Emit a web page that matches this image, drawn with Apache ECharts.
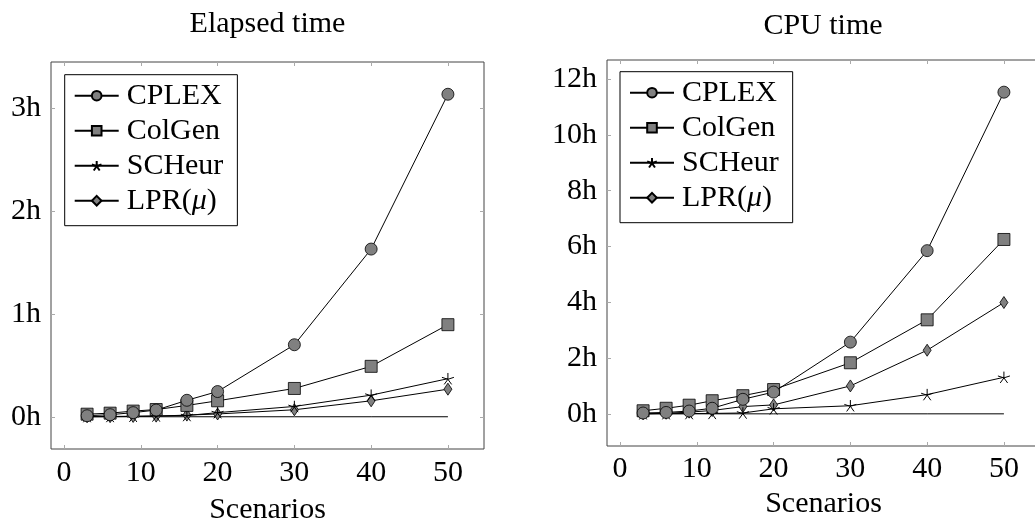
<!DOCTYPE html>
<html><head><meta charset="utf-8">
<script src="https://cdn.jsdelivr.net/npm/echarts@6/dist/echarts.min.js"></script>
<style>html,body{margin:0;padding:0;background:#fff}#c{width:1035px;height:523px}</style>
</head><body><div id="c"></div>
<script>
// ---- data (hours) ----
const scenarios = [3, 6, 9, 12, 16, 20, 30, 40, 50];
const seriesNames = ['CPLEX', 'ColGen', 'SCHeur', 'LPR(μ)'];

const elapsedCPLEX  = [0.01, 0.02, 0.04, 0.065, 0.16, 0.245, 0.70, 1.63, 3.135];
const elapsedColGen = [0.025, 0.035, 0.055, 0.07, 0.11, 0.155, 0.275, 0.49, 0.895];
const elapsedSCHeur = [0.002, 0.003, 0.005, 0.008, 0.012, 0.04, 0.10, 0.21, 0.37];
const elapsedLPR    = [0.0, 0.001, 0.003, 0.006, 0.016, 0.027, 0.068, 0.155, 0.268];
const elapsedZero   = [0, 0, 0, 0, 0, 0, 0, 0, 0];

const cpuCPLEX  = [0.03, 0.05, 0.10, 0.20, 0.52, 0.78, 2.57, 5.85, 11.53];
const cpuColGen = [0.11, 0.20, 0.31, 0.47, 0.65, 0.87, 1.83, 3.37, 6.25];
const cpuSCHeur = [0.003, 0.006, 0.01, 0.015, 0.03, 0.18, 0.29, 0.69, 1.31];
const cpuLPR    = [0.0, 0.02, 0.06, 0.12, 0.26, 0.32, 1.0, 2.28, 3.99];
const cpuZero   = [0, 0, 0, 0, 0, 0, 0, 0, 0];

const xTicks = [0, 10, 20, 30, 40, 50];
const elapsedTicks = [0, 1, 2, 3];
const cpuTicks = [0, 2, 4, 6, 8, 10, 12];

const titles = ['Elapsed time', 'CPU time'];
const xName = 'Scenarios';

// ---- styling ----
const FONT = '"Liberation Serif", "Times New Roman", serif';
const FS = 30;
const starPath = 'path://M0 0L0 -1M0 0L0.951 -0.309M0 0L0.588 0.809M0 0L-0.588 0.809M0 0L-0.951 -0.309';
const markerDefs = [
  { symbol: 'circle', symbolSize: 12 },
  { symbol: 'rect', symbolSize: 12 },
  { symbol: starPath, symbolSize: 12, star: true },
  { symbol: 'diamond', symbolSize: [8, 12] }
];

function enlarge(arrs) {
  const all = [].concat(...arrs);
  const lo = Math.min(...all), hi = Math.max(...all);
  const pad = 0.1 * (hi - lo);
  return [lo - pad, hi + pad];
}
const xr = enlarge([scenarios]);
const yrE = enlarge([elapsedCPLEX, elapsedColGen, elapsedSCHeur, elapsedLPR, elapsedZero]);
const yrC = enlarge([cpuCPLEX, cpuColGen, cpuSCHeur, cpuLPR, cpuZero]);

const tickStyle = { show: true, inside: true, length: 4, lineStyle: { color: '#aaa', width: 1 } };
const noLine = { show: false, onZero: false };

function xAxes(gi, margin, gap) {
  return [
    { gridIndex: gi, type: 'value', position: 'bottom', min: xr[0], max: xr[1],
      axisLine: noLine, splitLine: { show: false },
      axisTick: Object.assign({ customValues: xTicks }, tickStyle),
      axisLabel: { customValues: xTicks, fontFamily: FONT, fontSize: FS, color: '#000', margin: margin },
      name: xName, nameLocation: 'middle', nameGap: gap,
      nameTextStyle: { fontFamily: FONT, fontSize: FS, color: '#000' } },
    { gridIndex: gi, type: 'value', position: 'top', min: xr[0], max: xr[1],
      axisLine: noLine, splitLine: { show: false },
      axisTick: Object.assign({ customValues: xTicks }, tickStyle),
      axisLabel: { show: false } }
  ];
}
function yAxes(gi, yr, ticks) {
  return [
    { gridIndex: gi, type: 'value', position: 'left', min: yr[0], max: yr[1],
      axisLine: noLine, splitLine: { show: false },
      axisTick: Object.assign({ customValues: ticks }, tickStyle),
      axisLabel: { customValues: ticks, fontFamily: FONT, fontSize: FS, color: '#000', margin: 10,
        formatter: v => v + 'h' } },
    { gridIndex: gi, type: 'value', position: 'right', min: yr[0], max: yr[1],
      axisLine: noLine, splitLine: { show: false },
      axisTick: Object.assign({ customValues: ticks }, tickStyle),
      axisLabel: { show: false } }
  ];
}

function mkSeries(axisIdx, arrays, zero) {
  const out = arrays.map((arr, i) => {
    const m = markerDefs[i];
    return {
      type: 'line', name: seriesNames[i], xAxisIndex: axisIdx, yAxisIndex: axisIdx,
      data: scenarios.map((x, k) => [x, arr[k]]),
      symbol: m.symbol, symbolSize: m.symbolSize, symbolKeepAspect: true,
      showAllSymbol: true,
      lineStyle: { color: '#000', width: 1 },
      itemStyle: m.star ? { color: '#000', borderColor: '#000', borderWidth: 1 }
                        : { color: '#808080', borderColor: '#000', borderWidth: 0.8 },
      emphasis: { disabled: true }, z: 3 + (4 - i)
    };
  });
  out.push({
    type: 'line', name: '_zero', xAxisIndex: axisIdx, yAxisIndex: axisIdx,
    data: scenarios.map((x, k) => [x, zero[k]]), symbol: 'none',
    lineStyle: { color: '#000', width: 1 }, z: 2, emphasis: { disabled: true }
  });
  return out;
}

function mkLegend(left, top) {
  return {
    left: left, top: top, orient: 'vertical', data: seriesNames,
    itemWidth: 44, itemHeight: 12, itemGap: 5,
    padding: [6, 14, 10, 9],
    borderColor: '#000', borderWidth: 1, backgroundColor: '#fff',
    selectedMode: false,
    textStyle: { fontFamily: FONT, fontSize: FS, color: '#000', lineHeight: 30, padding: [0, 0, 0, 3],
      rich: { i: { fontFamily: FONT, fontSize: FS, fontStyle: 'italic', color: '#000', lineHeight: 30 } } },
    formatter: n => n.replace('μ', '{i|μ}')
  };
}

const chart = echarts.init(document.getElementById('c'), null, { renderer: 'canvas' });
chart.setOption({
  animation: false,
  backgroundColor: '#fff',
  grid: [
    { left: 51, top: 62, width: 433, height: 387, show: true, borderColor: '#444', borderWidth: 1,
      backgroundColor: 'transparent', containLabel: false, outerBoundsMode: 'none' },
    { left: 607, top: 60, width: 433, height: 386, show: true, borderColor: '#444', borderWidth: 1,
      backgroundColor: 'transparent', containLabel: false, outerBoundsMode: 'none' }
  ],
  xAxis: [].concat(xAxes(0, 9, 46), xAxes(1, 8, 43)),
  yAxis: [].concat(yAxes(0, yrE, elapsedTicks), yAxes(1, yrC, cpuTicks)),
  legend: [mkLegend(64.7, 74.7), mkLegend(620, 71.7)],
  series: [].concat(
    mkSeries(0, [elapsedCPLEX, elapsedColGen, elapsedSCHeur, elapsedLPR], elapsedZero),
    mkSeries(2, [cpuCPLEX, cpuColGen, cpuSCHeur, cpuLPR], cpuZero)
  ),
  graphic: [
    { type: 'text', x: 267.5, y: 24, style: { text: titles[0], font: FS + 'px ' + FONT, textAlign: 'center', textVerticalAlign: 'middle', fill: '#000' } },
    { type: 'text', x: 823, y: 26.5, style: { text: titles[1], font: FS + 'px ' + FONT, textAlign: 'center', textVerticalAlign: 'middle', fill: '#000' } }
  ]
});
</script></body></html>
